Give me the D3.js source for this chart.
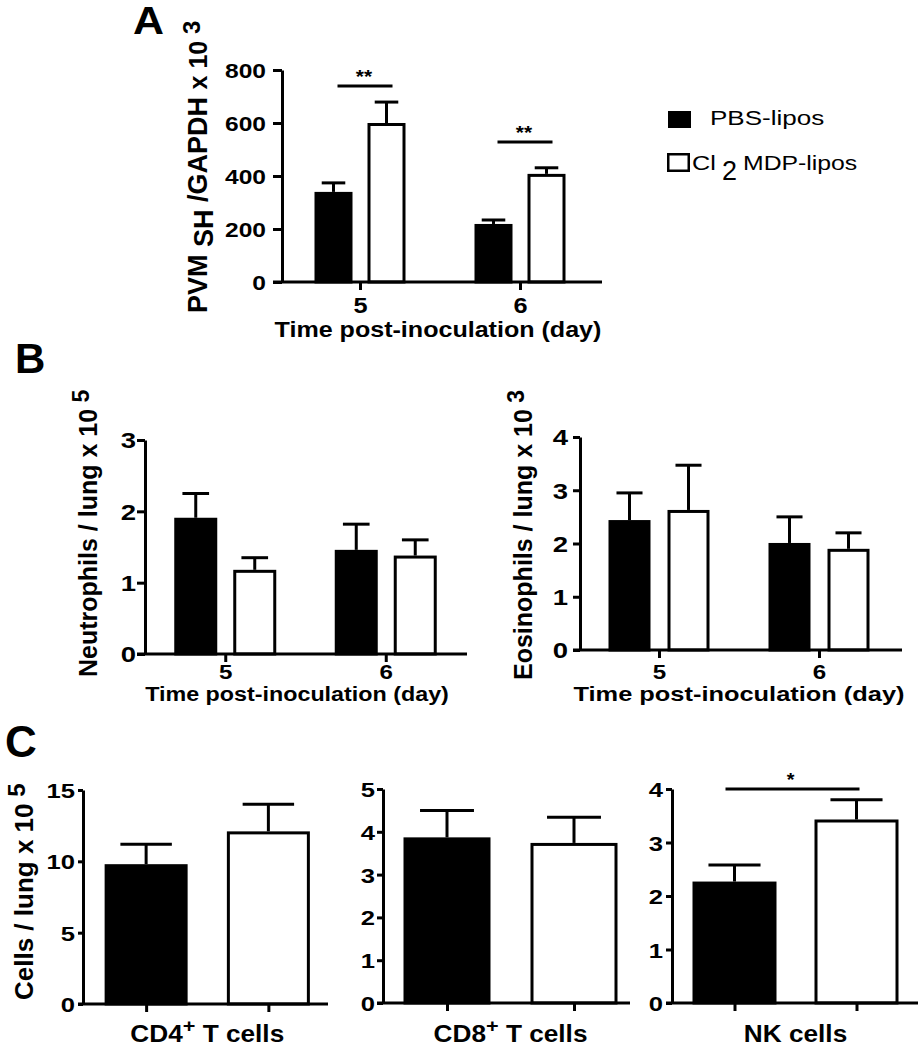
<!DOCTYPE html>
<html><head><meta charset="utf-8">
<script src="https://cdn.jsdelivr.net/npm/d3@7"></script>
<style>
body{margin:0;background:#fff}
svg{display:block}
text{font-family:"Liberation Sans",Arial,Helvetica,sans-serif;fill:#000}
</style>
</head><body>
<svg id="chart" width="921" height="1050"></svg>
<script>
// ---------------- DATA ----------------
const series = ["PBS-lipos", "Cl2MDP-lipos"];
const days = ["5", "6"];

// Panel A: PVM SH / GAPDH x 10^3
const pvmPBS = [340, 219];
const pvmPBSErr = [34, 15];
const pvmCl2 = [600, 408];
const pvmCl2Err = [79, 23];
const pvmTicks = [0, 200, 400, 600, 800];
const pvmSig = [{day: "5", level: 740, label: "**"}, {day: "6", level: 528, label: "**"}];

// Panel B: Neutrophils / lung x 10^5
const neuPBS = [1.91, 1.46];
const neuPBSErr = [0.34, 0.36];
const neuCl2 = [1.18, 1.38];
const neuCl2Err = [0.17, 0.22];
const neuTicks = [0, 1, 2, 3];

// Panel B: Eosinophils / lung x 10^3
const eosPBS = [2.44, 2.01];
const eosPBSErr = [0.51, 0.49];
const eosCl2 = [2.63, 1.90];
const eosCl2Err = [0.84, 0.30];
const eosTicks = [0, 1, 2, 3, 4];

// Panel C: Cells / lung x 10^5
const cellTypes = ["CD4", "CD8", "NK"];
const cellPBS = [9.8, 3.87, 2.27];
const cellPBSErr = [1.4, 0.63, 0.31];
const cellCl2 = [12.1, 3.74, 3.43];
const cellCl2Err = [1.9, 0.60, 0.37];
const cellTicks = [[0, 5, 10, 15], [0, 1, 2, 3, 4, 5], [0, 1, 2, 3, 4]];
const cellDomains = [[0, 15], [0, 5], [0, 4]];
const cellSig = [null, null, {level: 4.0, label: "*"}];

// ---------------- DRAWING ----------------
const svg = d3.select("#chart");
const FONT = '"Liberation Sans",Arial,Helvetica,sans-serif';
const SW = 3;

function htext(x, y, str, size, sx, anchor, weight) {
  return svg.append("text")
    .attr("transform", `translate(${x},${y}) scale(${sx},1)`)
    .attr("text-anchor", anchor || "start")
    .attr("font-size", size)
    .attr("font-weight", weight || "bold")
    .text(str);
}

function yAxis(y, ticks, cfg) {
  const ax = d3.axisLeft(y).tickValues(ticks).tickSize(cfg.tick).tickSizeOuter(0).tickPadding(0)
    .tickFormat(d3.format("d"));
  const g = svg.append("g").attr("transform", `translate(${cfg.ax},0)`).call(ax);
  g.attr("font-family", null).attr("font-size", null);
  g.select(".domain").attr("stroke-width", SW).attr("stroke", "#000");
  g.selectAll(".tick line").attr("stroke-width", SW).attr("stroke", "#000");
  g.selectAll(".tick text")
    .attr("x", null).attr("dy", null)
    .attr("transform", `translate(${cfg.labelX - cfg.ax},${cfg.tickFont * 0.36}) scale(${cfg.tickSx},1)`)
    .attr("font-size", cfg.tickFont).attr("font-weight", "bold").attr("fill", "#000")
    .attr("font-family", FONT);
  return g;
}

function xAxisLine(cfg, y0) {
  svg.append("line").attr("x1", cfg.ax - cfg.tick).attr("x2", cfg.xEnd)
    .attr("y1", y0).attr("y2", y0).attr("stroke", "#000").attr("stroke-width", SW);
}

function bar(cx, w, v, e, y, filled) {
  const y0 = y(0);
  svg.append("rect")
    .attr("x", cx - w / 2 + SW / 2).attr("width", w - SW)
    .attr("y", y(v) + SW / 2).attr("height", y0 - y(v) - SW / 2)
    .attr("fill", filled ? "#000" : "#fff")
    .attr("stroke", "#000").attr("stroke-width", SW);
  const cw = w * 0.62;
  svg.append("line").attr("x1", cx).attr("x2", cx).attr("y1", y(v)).attr("y2", y(v + e))
    .attr("stroke", "#000").attr("stroke-width", SW);
  svg.append("line").attr("x1", cx - cw / 2).attr("x2", cx + cw / 2).attr("y1", y(v + e)).attr("y2", y(v + e))
    .attr("stroke", "#000").attr("stroke-width", SW);
}

function rotLabel(x, y, parts, size) {
  const t = svg.append("text").attr("transform", `translate(${x},${y}) rotate(-90)`)
    .attr("font-size", size).attr("font-weight", "bold");
  parts.forEach(p => {
    const ts = t.append("tspan").text(p.t);
    if (p.dy) ts.attr("dy", p.dy);
    if (p.size) ts.attr("font-size", p.size);
  });
  return t;
}

// grouped panel (two days x two series)
function groupedPanel(cfg, pbs, pbsErr, cl2, cl2Err, ticks) {
  const y = d3.scaleLinear().domain(cfg.domain).range([cfg.y0, cfg.yTop]);
  const x = d3.scalePoint().domain(days).range(cfg.xRange).padding(0.5);
  const off = cfg.barW / 2 + cfg.gap / 2;
  days.forEach((d, i) => {
    bar(x(d) - off, cfg.barW, pbs[i], pbsErr[i], y, true);
    bar(x(d) + off, cfg.barW, cl2[i], cl2Err[i], y, false);
  });
  yAxis(y, ticks, cfg);
  xAxisLine(cfg, y(0));
  const gx = svg.append("g").attr("transform", `translate(0,${y(0)})`)
    .call(d3.axisBottom(x).tickSize(8).tickSizeOuter(0));
  gx.select(".domain").remove();
  gx.attr("font-family", null).attr("font-size", null);
  gx.selectAll(".tick line").attr("stroke-width", SW).attr("stroke", "#000");
  gx.selectAll(".tick text").attr("y", null).attr("dy", null)
    .attr("transform", `translate(0,${cfg.xLabelBase - cfg.y0}) scale(1.15,1)`)
    .attr("font-size", cfg.xFont).attr("font-weight", "bold").attr("fill", "#000").attr("font-family", FONT);
  return {x, y, off};
}

// ---- Panel A ----
const cfgA = {domain: [0, 800], y0: 282, yTop: 70, ax: 282, tick: 9, labelX: 266, tickFont: 21, tickSx: 1.17,
  xRange: [280, 600], xEnd: 602, barW: 38, gap: 15, xLabelBase: 313, xFont: 22};
const A = groupedPanel(cfgA, pvmPBS, pvmPBSErr, pvmCl2, pvmCl2Err, pvmTicks);
pvmSig.forEach(s => {
  const c = A.x(s.day);
  const ly = A.y(s.level);
  svg.append("line").attr("x1", c - A.off + 4).attr("x2", c + A.off + 6).attr("y1", ly).attr("y2", ly)
    .attr("stroke", "#000").attr("stroke-width", SW);
  htext(c + 4, ly - 3, s.label, 19, 1.1, "middle");
});
htext(133, 34, "A", 39, 1.1, "start");
svg.append("text").attr("transform", "translate(438,337) scale(1.14,1)")
  .attr("text-anchor", "middle").attr("font-size", 22).attr("font-weight", "bold")
  .text("Time post-inoculation (day)");
rotLabel(207, 313, [
  {t: "PVM "}, {t: "SH", dy: 6}, {t: " /GAPDH ", dy: -6}, {t: "x 10", size: 25}, {t: " 3", dy: -7, size: 24}
], 27);

// Legend
svg.append("rect").attr("x", 668).attr("y", 111).attr("width", 23).attr("height", 17).attr("fill", "#000");
svg.append("rect").attr("x", 668.25).attr("y", 154.25).attr("width", 20.5).attr("height", 16.5)
  .attr("fill", "#fff").attr("stroke", "#000").attr("stroke-width", 2.5);
htext(710, 125, series[0], 21, 1.24, "start", "normal");
htext(692, 170, "Cl", 21, 1.2, "start", "normal");
htext(722, 180, "2", 27, 1.0, "start", "normal");
htext(743, 170, "MDP-lipos", 21, 1.18, "start", "normal");

// ---- Panel B ----
htext(15, 373, "B", 42, 1.0, "start");
const cfgBL = {domain: [0, 3], y0: 654, yTop: 440, ax: 145, tick: 8, labelX: 136, tickFont: 22, tickSx: 1.25,
  xRange: [145, 466], xEnd: 467, barW: 43, gap: 16, xLabelBase: 679, xFont: 21};
groupedPanel(cfgBL, neuPBS, neuPBSErr, neuCl2, neuCl2Err, neuTicks);
htext(297, 701, "Time post-inoculation (day)", 21, 1.11, "middle");
rotLabel(97, 677, [{t: "Neutrophils / lung x 10"}, {t: " 5", dy: -8, size: 23}], 25);

const cfgBR = {domain: [0, 4], y0: 650, yTop: 437, ax: 580, tick: 7, labelX: 568, tickFont: 22, tickSx: 1.25,
  xRange: [579, 899], xEnd: 902, barW: 42, gap: 17, xLabelBase: 679, xFont: 21};
groupedPanel(cfgBR, eosPBS, eosPBSErr, eosCl2, eosCl2Err, eosTicks);
htext(739, 701, "Time post-inoculation (day)", 21, 1.21, "middle");
rotLabel(532, 680, [{t: "Eosinophils / lung x 10"}, {t: " 3", dy: -8, size: 23}], 25);

// ---- Panel C ----
htext(5, 757, "C", 44, 1.0, "start");
const cfgC = [
  {ax: 83, y0: 1004, yTop: 790, tick: 5, labelX: 75, xRange: [85, 329.5], xEnd: 328, barW: 83},
  {ax: 383, y0: 1003, yTop: 789, tick: 6, labelX: 375, xRange: [383.5, 637.5], xEnd: 630, barW: 87},
  {ax: 672, y0: 1003, yTop: 789, tick: 6, labelX: 663, xRange: [673.5, 917.5], xEnd: 918, barW: 84}
];
cellTypes.forEach((ct, i) => {
  const cfg = Object.assign({tickFont: 21, tickSx: 1.22}, cfgC[i]);
  const y = d3.scaleLinear().domain(cellDomains[i]).range([cfg.y0, cfg.yTop]);
  const x = d3.scalePoint().domain(series).range(cfg.xRange).padding(0.5);
  bar(x(series[0]), cfg.barW, cellPBS[i], cellPBSErr[i], y, true);
  bar(x(series[1]), cfg.barW, cellCl2[i], cellCl2Err[i], y, false);
  yAxis(y, cellTicks[i], cfg);
  xAxisLine(cfg, y(0));
  const gx = svg.append("g").attr("transform", `translate(0,${y(0)})`)
    .call(d3.axisBottom(x).tickSize(8).tickSizeOuter(0).tickFormat(""));
  gx.select(".domain").remove();
  gx.selectAll(".tick line").attr("stroke-width", SW).attr("stroke", "#000");
  const cx = (x(series[0]) + x(series[1])) / 2;
  const t = svg.append("text").attr("transform", `translate(${cx},1042) scale(1.14,1)`)
    .attr("text-anchor", "middle").attr("font-size", 23).attr("font-weight", "bold");
  if (ct === "NK") {
    t.text("NK cells");
  } else {
    t.append("tspan").text(ct);
    t.append("tspan").attr("dy", -10).attr("font-size", 19).text("+");
    t.append("tspan").attr("dy", 10).text(" T cells");
  }
  const s = cellSig[i];
  if (s) {
    const ly = y(s.level);
    svg.append("line").attr("x1", x(series[0]) - 9).attr("x2", x(series[1]) + 3).attr("y1", ly).attr("y2", ly)
      .attr("stroke", "#000").attr("stroke-width", SW);
    htext(cx - 5, ly - 3, s.label, 18, 1.1, "middle");
  }
});
rotLabel(33, 1000, [{t: "Cells / lung x 10"}, {t: " 5", dy: -8, size: 24}], 26);
</script>
</body></html>
